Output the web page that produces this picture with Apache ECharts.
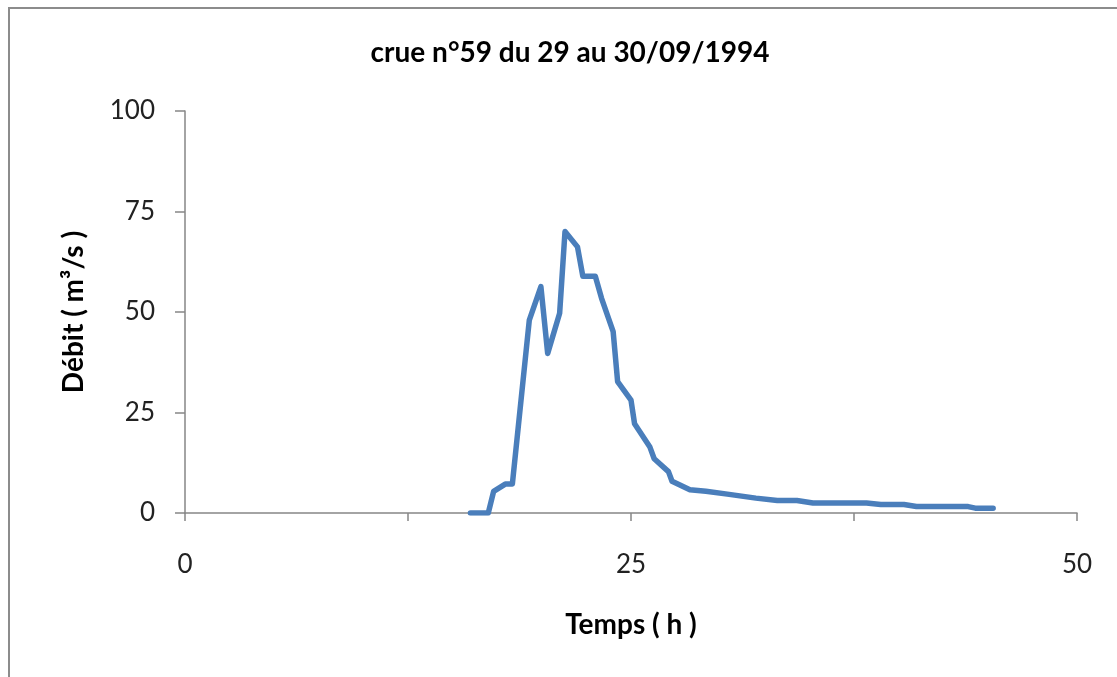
<!DOCTYPE html>
<html>
<head>
<meta charset="utf-8">
<script src="https://cdn.jsdelivr.net/npm/echarts@6/dist/echarts.min.js"></script>
<style>
html,body{margin:0;padding:0;background:#fff;}
#chart{width:1117px;height:677px;}
</style>
</head>
<body>
<div id="chart"></div>
<script>
var titleText = 'crue n°59 du 29 au 30/09/1994';
var xAxisName = 'Temps ( h )';
var yAxisName = 'Débit ( m³/s )';
var xTickLabels = [0, 25, 50];
var yTickLabels = [0, 25, 50, 75, 100];
var times = [16, 17, 17.3, 17.95, 18.35, 19.3, 19.95, 20.33, 21.0, 21.3, 22.0, 22.3, 23.0, 23.35, 24.0, 24.25, 25.0, 25.2, 26.05, 26.3, 27.1, 27.3, 28.3, 29.2, 30.4, 32.0, 33.2, 34.3, 35.2, 38.2, 39.0, 40.3, 41.0, 43.9, 44.3, 45.3];
var flows = [0, 0, 5.4, 7.2, 7.2, 48, 56.3, 39.7, 49.7, 70, 66.2, 58.9, 58.9, 53.4, 45.1, 32.7, 28.1, 22.2, 16.5, 13.5, 10.3, 7.9, 5.8, 5.4, 4.7, 3.7, 3.1, 3.1, 2.5, 2.5, 2.1, 2.1, 1.6, 1.6, 1.2, 1.2];

var data = times.map(function (t, i) { return [t, flows[i]]; });
var FONT = 'Lato, "Open Sans", sans-serif';

var chart = echarts.init(document.getElementById('chart'), null, {renderer: 'canvas'});
chart.setOption({
  animation: false,
  backgroundColor: '#ffffff',
  graphic: [
    {type: 'rect', shape: {x: 9, y: 8, width: 1200, height: 800},
     style: {fill: 'none', stroke: '#8c8c8c', lineWidth: 2}, silent: true},
    {type: 'text', x: 570, y: 53,
     style: {text: titleText, font: 'bold 28px ' + FONT, fill: '#000', textAlign: 'center', textVerticalAlign: 'middle'}}
  ],
  grid: {left: 185, top: 111, right: 40, bottom: 164, containLabel: false},
  xAxis: {
    type: 'value', min: 0, max: 50, interval: 12.5,
    name: xAxisName, nameLocation: 'middle', nameGap: 98,
    nameTextStyle: {fontFamily: FONT, fontWeight: 'bold', fontSize: 28, color: '#000'},
    axisLine: {lineStyle: {color: '#868686', width: 1.5}},
    axisTick: {show: true, inside: false, length: 8, lineStyle: {color: '#868686', width: 1.5}},
    axisLabel: {
      margin: 39, fontFamily: FONT, fontSize: 26, color: '#222',
      formatter: function (v) { return xTickLabels.indexOf(v) >= 0 ? String(v) : ''; }
    },
    splitLine: {show: false}
  },
  yAxis: {
    type: 'value', min: 0, max: 100, interval: 25,
    name: yAxisName, nameLocation: 'middle', nameGap: 97, nameRotate: 90,
    nameTextStyle: {fontFamily: FONT, fontWeight: 'bold', fontSize: 28, color: '#000'},
    axisLine: {show: true, lineStyle: {color: '#868686', width: 1.5}},
    axisTick: {show: true, inside: false, length: 10, lineStyle: {color: '#868686', width: 1.5}},
    axisLabel: {
      margin: 30, fontFamily: FONT, fontSize: 26, color: '#222',
      formatter: function (v) { return yTickLabels.indexOf(v) >= 0 ? String(v) : ''; }
    },
    splitLine: {show: false}
  },
  series: [{
    type: 'line',
    data: data,
    showSymbol: false,
    lineStyle: {color: '#4a7ebb', width: 5.5, cap: 'round', join: 'round'},
    itemStyle: {color: '#4a7ebb'}
  }]
});
</script>
</body>
</html>
